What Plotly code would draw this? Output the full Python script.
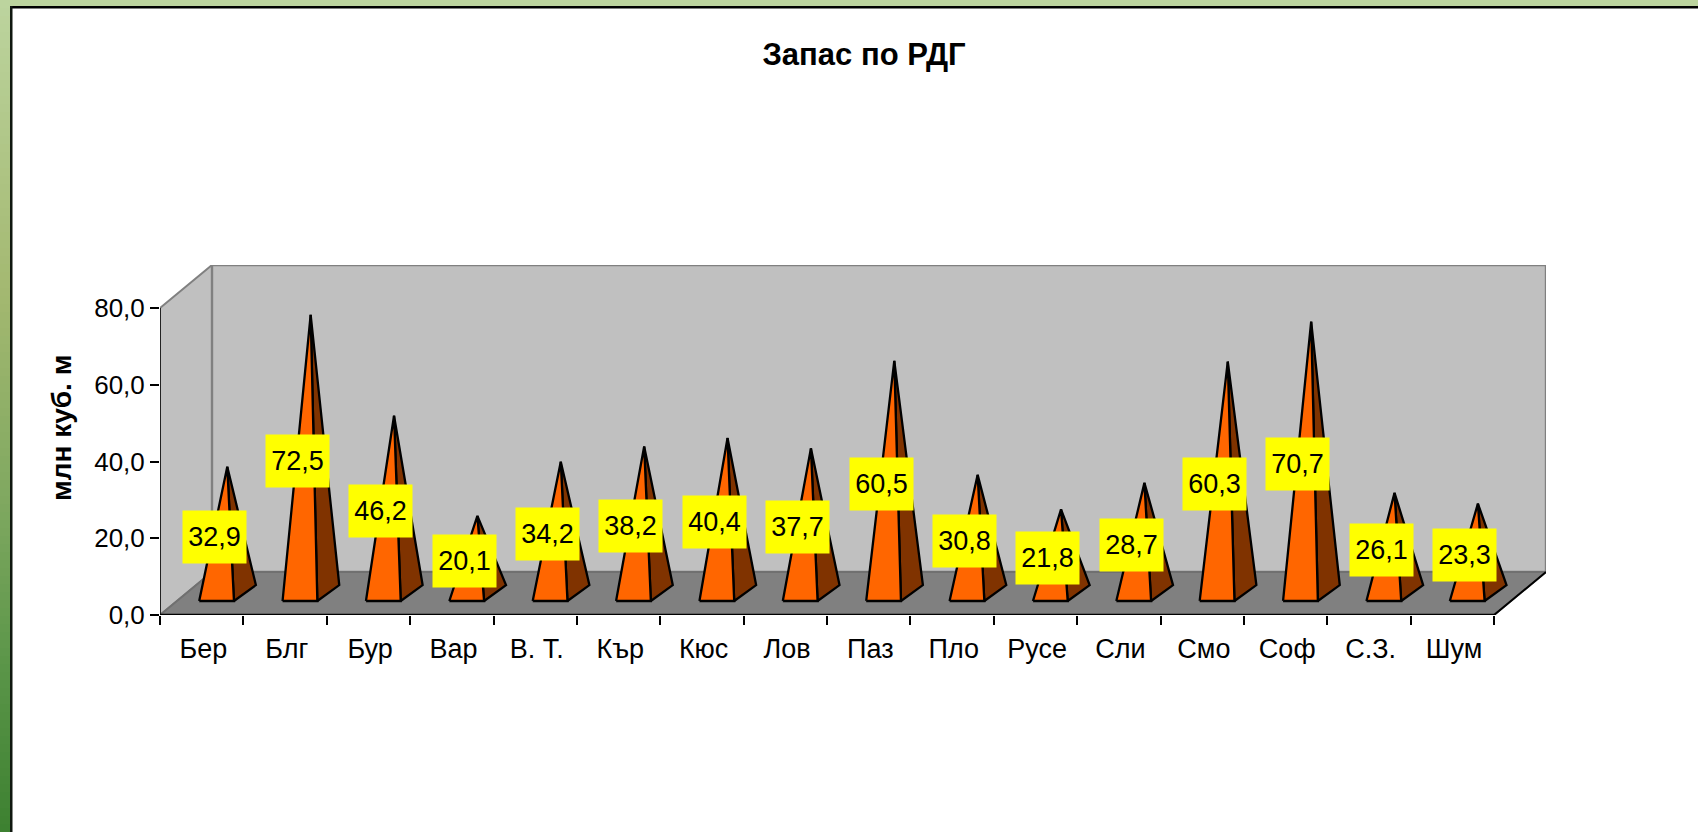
import plotly.graph_objects as go

# ---- data ----
categories = ["Бер", "Блг", "Бур", "Вар", "В. Т.", "Кър", "Кюс", "Лов", "Паз", "Пло",
              "Русе", "Сли", "Смо", "Соф", "С.З.", "Шум"]
values = [32.9, 72.5, 46.2, 20.1, 34.2, 38.2, 40.4, 37.7, 60.5, 30.8,
          21.8, 28.7, 60.3, 70.7, 26.1, 23.3]
y_ticks = [0, 20, 40, 60, 80]
title_text = "Запас по РДГ"
y_title = "млн куб. м"

FONT = "Liberation Sans"
W, H = 1698, 832
L, R, T, B = 160, 1546, 265, 615          # plot box in page pixels
UX = (1494 - 160) / 16                    # pixels per category
UY = (615 - 308) / 80                     # pixels per value unit
DX = (R - 1494) / UX                      # 3-D depth, in axis units
DY = (615 - 572) / UY
X0, X1 = -0.5, len(categories) - 0.5
Y_MAX = y_ticks[-1]

# pyramid base geometry relative to category centre (axis units)
FL, FR, BR = -0.03, 0.387, 0.65
AP = 0.307
BASE_F, BASE_B = 3.65, 7.8
BASE_C = (BASE_F + BASE_B) / 2


def px(x):
    return (x - L) / (R - L)


def py(y):
    return (B - y) / (B - T)


fig = go.Figure()


def poly(xs, ys, fill, line, width=2):
    fig.add_trace(go.Scatter(x=xs, y=ys, mode="lines", fill="toself", fillcolor=fill,
                             line=dict(color=line, width=width, shape="linear"),
                             hoverinfo="skip", showlegend=False, cliponaxis=False))


def seg(xs, ys, color, width=2):
    fig.add_trace(go.Scatter(x=xs, y=ys, mode="lines", line=dict(color=color, width=width),
                             hoverinfo="skip", showlegend=False, cliponaxis=False))


# walls and floor
poly([X0, X0 + DX, X0 + DX, X0, X0], [0, DY, Y_MAX + DY, Y_MAX, 0], "#C0C0C0", "#808080", 2)
poly([X0 + DX, X1 + DX, X1 + DX, X0 + DX, X0 + DX], [DY, DY, Y_MAX + DY, Y_MAX + DY, DY], "#C0C0C0", "#808080", 2.4)
poly([X0, X1, X1 + DX, X0 + DX, X0], [0, 0, DY, DY, 0], "#808080", "#707070", 2)
seg([X0, X0], [0, Y_MAX], "#222222", 2)
seg([X1, X1 + DX], [0, DY], "#000000", 2)
seg([X0, X1], [0, 0], "#000000", 2.4)

# pyramids
for i, v in enumerate(values):
    poly([i + FR, i + BR, i + AP, i + FR], [BASE_F, BASE_B, BASE_C + v, BASE_F], "#803300", "#000000", 2.3)
    poly([i + FL, i + FR, i + AP, i + FL], [BASE_F, BASE_F, BASE_C + v, BASE_F], "#FF6600", "#000000", 2.3)

# data labels
annotations = [
    dict(x=i + 0.149, y=4.0 + v / 2, xref="x", yref="y",
         text=f"{v:.1f}".replace(".", ","), showarrow=False,
         bgcolor="#FFFF00", width=61, height=50, align="center", valign="middle",
         font=dict(family=FONT, size=27, color="#000000"))
    for i, v in enumerate(values)
]
annotations.append(dict(x=px(61), y=py(428), xref="paper", yref="paper", text=f"<b>{y_title}</b>",
                        textangle=-90, showarrow=False, xanchor="center", yanchor="middle",
                        font=dict(family=FONT, size=28, color="#000000")))

# frame: gradient strip on left and top band
shapes = []
stops = [(0, (188, 212, 158)), (0.35, (163, 184, 112)), (0.6, (127, 168, 96)),
         (0.8, (90, 149, 72)), (1, (60, 128, 48))]


def grad(t):
    for (a, ca), (b, cb) in zip(stops, stops[1:]):
        if t <= b:
            f = (t - a) / (b - a)
            return "rgb(%d,%d,%d)" % tuple(round(p + (q - p) * f) for p, q in zip(ca, cb))
    return "rgb(%d,%d,%d)" % stops[-1][1]


def rect(x0, x1, y0, y1, color):
    shapes.append(dict(type="rect", xref="paper", yref="paper", layer="below", line_width=0,
                       x0=px(x0), x1=px(x1), y0=py(y0), y1=py(y1), fillcolor=color))


step = 8
for yy in range(0, H, step):
    rect(0, 10, yy, min(yy + step, H), grad(yy / H))
rect(0, W, 0, 6, grad(0))
rect(10, W, 6, 8.5, "#000000")
rect(10, 12.5, 6, H, "#101810")

boundaries = [X0 + k for k in range(len(categories) + 1)]

fig.update_layout(
    width=W, height=H, autosize=False,
    margin=dict(l=L, r=W - R, t=T, b=H - B, pad=0),
    paper_bgcolor="#FFFFFF", plot_bgcolor="#FFFFFF",
    separators=",.",
    showlegend=False,
    title=dict(text=f"<b>{title_text}</b>", x=864 / W, y=1 - 54 / H, xanchor="center", yanchor="middle",
               font=dict(family=FONT, size=31, color="#000000")),
    font=dict(family=FONT, size=25, color="#000000"),
    xaxis=dict(range=[X0, X1 + DX], showgrid=False, zeroline=False, showline=False,
               tickmode="array", tickvals=[k + 0.02 for k in range(len(categories))], ticktext=categories,
               ticks="outside", ticklen=10, tickcolor="rgba(0,0,0,0)", tickwidth=1,
               tickfont=dict(family=FONT, size=27, color="#000000"),
               minor=dict(tickmode="array", tickvals=boundaries, ticks="outside", ticklen=9,
                          tickcolor="#000000", tickwidth=1.5, showgrid=False),
               fixedrange=True),
    yaxis=dict(range=[0, Y_MAX + DY], showgrid=False, zeroline=False, showline=False,
               tickmode="array", tickvals=y_ticks, tickformat=".1f",
               ticks="outside", ticklen=9, tickcolor="#000000", tickwidth=1.5,
               tickfont=dict(family=FONT, size=26, color="#000000"),
               fixedrange=True),
    annotations=annotations,
    shapes=shapes,
)

fig.write_html("out.html", config=dict(displayModeBar=False),
               post_script="document.body.style.margin='0';document.body.style.overflow='hidden';")
